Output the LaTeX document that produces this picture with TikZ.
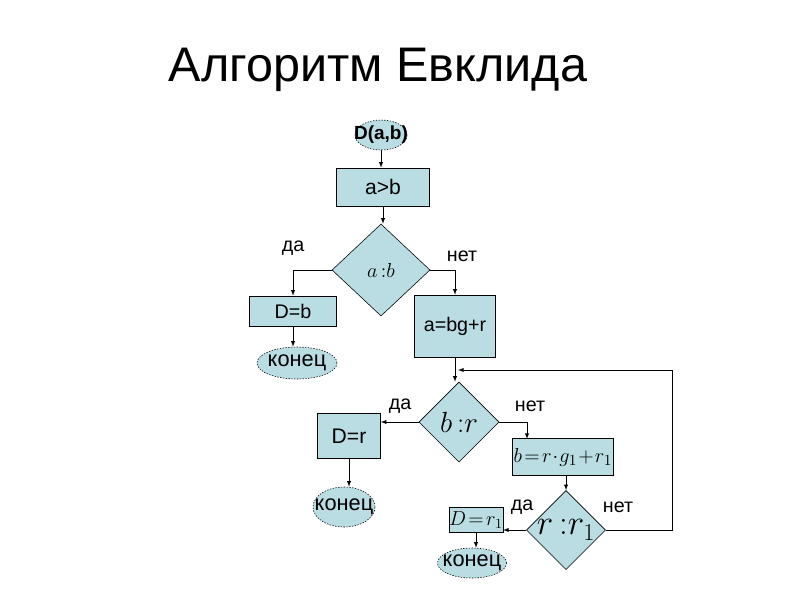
\documentclass[tikz,border=0pt]{standalone}
\usepackage{fontspec}
\setmainfont{Liberation Sans}
\usetikzlibrary{shapes.geometric}
\definecolor{boxFill}{RGB}{185,221,226}

\begin{document}
\begin{tikzpicture}[%%
  x=0.025cm,y=-0.025cm,%%
  boxStyle/.style={draw,fill=boxFill,inner sep=0pt,font=\fontsize{14}{16}\selectfont},%%
  endStyle/.style={ellipse,draw,fill=boxFill,inner sep=0pt,dash pattern=on 1pt off 1pt},%%
  endText/.style={inner sep=0pt,font=\fontsize{15.5}{17}\selectfont},%%
  diamondStyle/.style={diamond,draw,fill=boxFill,inner sep=0pt,aspect=1},%%
  labelStyle/.style={font=\fontsize{14}{16}\selectfont},%%
  arrowStyle/.style={-latex,thin}%%
]
%%
\useasboundingbox (0,0) rectangle (800,600);
%%
%% Title.
\node (title) at (378,70) {\fontsize{34.5}{38}\selectfont Алгоритм Евклида};
%%
%% Start and first test.
\node[endStyle,minimum width=1.3cm,minimum height=0.75cm,label={[endText,font=\fontsize{13.5}{15}\selectfont\bfseries]center:D(a,b)}] (start) at (381,135) {};
\node[boxStyle,minimum width=2.325cm,minimum height=0.95cm,font=\fontsize{15}{17}\selectfont] (cmp) at (383,187) {a>b};
\node[diamondStyle,minimum width=2.45cm,minimum height=2.3cm] (dab) at (381,270) {\fontsize{15}{17}\selectfont$a\,{:}b$};
%%
%% Left branch.
\node[boxStyle,minimum width=2.175cm,minimum height=0.75cm] (Db) at (293,311) {D=b};
\node[endStyle,minimum width=2cm,minimum height=0.8cm,label={[endText]center:конец}] (end1) at (297,363) {};
%%
%% Right branch.
\node[boxStyle,minimum width=2.025cm,minimum height=1.55cm] (div) at (455,326) {a=bg+r};
\node[diamondStyle,minimum width=2cm,minimum height=2cm] (dbr) at (459,422) {\fontsize{22}{24}\selectfont$b\,{:}r$};
%%
%% Second test, yes.
\node[boxStyle,minimum width=1.575cm,minimum height=1.125cm,font=\fontsize{15}{17}\selectfont] (Dr) at (349,436) {D=r};
\node[endStyle,minimum width=1.55cm,minimum height=1cm,label={[endText]center:конец}] (end2) at (344,507) {};
%%
%% Second test, no.
\node[boxStyle,minimum width=2.525cm,minimum height=0.925cm,font=\fontsize{15}{17}\selectfont] (brg) at (563,457) {$b\!=\!r\!\cdot\! g_1\!+\!r_1$};
\node[diamondStyle,minimum width=1.975cm,minimum height=1.975cm] (drr) at (566,530) {\fontsize{25}{27}\selectfont$r\,{:}r_1$};
\node[boxStyle,minimum width=1.3cm,minimum height=0.625cm] (Dr1) at (476,520) {$D\!=\!r_1$};
\node[endStyle,minimum width=1.725cm,minimum height=0.75cm,label={[endText]center:конец}] (end3) at (472,563) {};
%%
%% Helper points.
\coordinate (brgIn) at (527,439);
\coordinate (loopTop) at (672,370);
\coordinate (loopIn) at (458,370);
%%
%% Connectors.
\draw[arrowStyle] (start.south) -- (start.south |- cmp.north);
\draw[arrowStyle] (cmp.south) -- (cmp.south |- dab.north);
\draw[arrowStyle] (dab.west) -| (Db.north);
\draw[arrowStyle] (dab.east) -| (div.north);
\draw[arrowStyle] (Db.south) -- (Db.south |- end1.north);
\draw[arrowStyle] (div.south) -- (div.south |- dbr.north);
\draw[arrowStyle] (dbr.west) -- (dbr.west -| Dr.east);
\draw[arrowStyle] (Dr.south) -- (Dr.south |- end2.north);
\draw[arrowStyle] (dbr.east) -| (brgIn);
\draw[arrowStyle] (brg.south -| drr.north) -- (drr.north);
\draw[arrowStyle] (drr.west) -- (drr.west -| Dr1.east);
\draw[arrowStyle] (Dr1.south) -- (Dr1.south |- end3.north);
\draw[arrowStyle] (drr.east) -| (loopTop) -- (loopIn);
%%
%% Branch labels.
\node[labelStyle] (yes1) at (293,248) {да};
\node[labelStyle] (no1) at (462,256) {нет};
\node[labelStyle] (yes2) at (400,406) {да};
\node[labelStyle] (no2) at (530,406) {нет};
\node[labelStyle] (yes3) at (522,507) {да};
\node[labelStyle] (no3) at (618,507) {нет};
\end{tikzpicture}
\end{document}
